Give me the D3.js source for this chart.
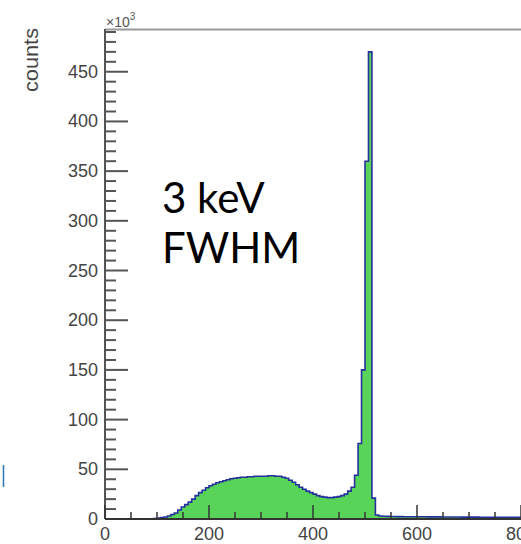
<!DOCTYPE html>
<html>
<head>
<meta charset="utf-8">
<script src="https://cdn.jsdelivr.net/npm/d3@7/dist/d3.min.js"></script>
<style>
  body { margin: 0; background: #fff; }
  svg { display: block; }
</style>
</head>
<body>
<div id="chart"></div>
<script>
// histogram: 120 bins from 0 to 800 keV, counts in units of 10^3
const binLow = 0;
const binHigh = 800;
const counts = [
  0, 0, 0, 0, 0, 0, 0, 0, 0, 0, 0, 0, 0,
  0.3, 0.5, 1, 1.5, 2, 3, 4.5, 6, 9, 12,
  14.5, 17, 20, 23.5, 26.5, 29, 31.5, 33.5, 35, 36.5,
  37.5, 38.5, 39.5, 40.5, 41, 41.5, 42, 42, 42.5, 42.5,
  43, 43, 43, 43, 43.5, 43.5, 43, 43, 42, 41,
  39, 37, 34.5, 32, 30, 28, 26.5, 25, 23.5, 22.5,
  22, 21.5, 21.5, 22, 22.5, 23.5, 25, 28, 32, 44,
  76, 150, 360, 470, 21, 4,
  3, 2.8, 2.6, 2.5, 2.5, 2.4, 2.4, 2.3, 2.3, 2.3,
  2.2, 2.2, 2.2, 2.2, 2.1, 2.1, 2.1, 2.1, 2, 2,
  2, 2, 2, 2, 1.9, 1.9, 1.9, 1.9, 1.9, 1.8,
  1.8, 1.8, 1.8, 1.8, 1.8, 1.7, 1.7, 1.7, 1.7, 1.7, 1.7
];
const xMajor = [0, 200, 400, 600, 800];
const xMinor = [50, 100, 150, 250, 300, 350, 450, 500, 550, 650, 700, 750];
const yMajor = [0, 50, 100, 150, 200, 250, 300, 350, 400, 450];
const yMinorStep = 10;
const yMax = 493;

const W = 521, H = 544;
const m = {left: 105, right: 521, top: 29, bottom: 519};
const font = "Liberation Sans, Arial, sans-serif";

const svg = d3.select("#chart").append("svg")
  .attr("width", W)
  .attr("height", H);

const x = d3.scaleLinear().domain([binLow, binHigh]).range([m.left, m.right]);
const y = d3.scaleLinear().domain([0, yMax]).range([m.bottom, m.top]);

// bins -> step points (lower edges + final upper edge)
const bw = (binHigh - binLow) / counts.length;
const pts = counts.map((c, i) => ({e: binLow + i * bw, c: c}));
pts.push({e: binHigh, c: counts[counts.length - 1]});

// slide artefact at far left
svg.append("line")
  .attr("x1", 3.5).attr("x2", 3.5)
  .attr("y1", 465).attr("y2", 487)
  .attr("stroke", "#2e75b6")
  .attr("stroke-width", 1.5);

// top frame line
svg.append("line")
  .attr("x1", m.left).attr("x2", m.right)
  .attr("y1", m.top + 0.5).attr("y2", m.top + 0.5)
  .attr("stroke", "#999")
  .attr("stroke-width", 2);

// filled histogram
const area = d3.area()
  .curve(d3.curveStepAfter)
  .x(d => x(d.e))
  .y0(y(0))
  .y1(d => y(d.c));

svg.append("path")
  .datum(pts)
  .attr("d", area)
  .attr("fill", "#58d558");

const line = d3.line()
  .curve(d3.curveStepAfter)
  .x(d => x(d.e))
  .y(d => y(d.c));

svg.append("path")
  .datum(pts.filter((d, i) => i >= 12))
  .attr("d", line)
  .attr("fill", "none")
  .attr("stroke", "#26309c")
  .attr("stroke-width", 1.6);

// y axis
const gy = svg.append("g").attr("stroke", "#555");
gy.append("line")
  .attr("x1", m.left).attr("x2", m.left)
  .attr("y1", m.top).attr("y2", m.bottom)
  .attr("stroke-width", 2);
const yMinor = d3.range(0, yMax, yMinorStep).filter(v => v % 50 !== 0);
gy.selectAll(".ymin").data(yMinor).join("line")
  .attr("x1", m.left).attr("x2", m.left + 11)
  .attr("y1", d => y(d)).attr("y2", d => y(d))
  .attr("stroke-width", 2);
gy.selectAll(".ymaj").data(yMajor).join("line")
  .attr("x1", m.left).attr("x2", m.left + 23)
  .attr("y1", d => y(d)).attr("y2", d => y(d))
  .attr("stroke-width", 2);

svg.selectAll(".ylab").data(yMajor).join("text")
  .attr("x", 98)
  .attr("y", d => y(d) + 6)
  .attr("text-anchor", "end")
  .attr("font-family", font)
  .attr("font-size", 18)
  .attr("fill", "#444")
  .text(d => d);

// x axis
const gx = svg.append("g").attr("stroke", "#333");
gx.append("line")
  .attr("x1", m.left).attr("x2", m.right)
  .attr("y1", m.bottom).attr("y2", m.bottom)
  .attr("stroke-width", 2);
gx.selectAll(".xmin").data(xMinor).join("line")
  .attr("x1", d => x(d)).attr("x2", d => x(d))
  .attr("y1", m.bottom).attr("y2", m.bottom - 7)
  .attr("stroke-width", 1.5);
gx.selectAll(".xmaj").data(xMajor).join("line")
  .attr("x1", d => x(d)).attr("x2", d => x(d))
  .attr("y1", m.bottom).attr("y2", m.bottom - 14)
  .attr("stroke-width", 1.5);

svg.selectAll(".xlab").data(xMajor).join("text")
  .attr("x", d => x(d))
  .attr("y", 540)
  .attr("text-anchor", "middle")
  .attr("font-family", font)
  .attr("font-size", 18)
  .attr("fill", "#444")
  .text(d => d);

// exponent label
const ex = svg.append("text")
  .attr("x", m.left + 1)
  .attr("y", 27)
  .attr("font-family", font)
  .attr("font-size", 14)
  .attr("fill", "#555");
ex.append("tspan").text("\u00d710");
ex.append("tspan").attr("dy", -7).attr("font-size", 10).text("3");

// y axis title
svg.append("text")
  .attr("transform", "translate(38,28) rotate(-90)")
  .attr("text-anchor", "end")
  .attr("font-family", font)
  .attr("font-size", 20)
  .attr("textLength", 64)
  .attr("lengthAdjust", "spacingAndGlyphs")
  .attr("fill", "#444")
  .text("counts");

// annotation
svg.append("text")
  .attr("x", 162).attr("y", 213)
  .attr("font-family", "Lato, 'Open Sans', sans-serif")
  .attr("font-size", 42)
  .attr("fill", "#000")
  .text("3 keV");
svg.append("text")
  .attr("x", 162).attr("y", 263)
  .attr("font-family", "Lato, 'Open Sans', sans-serif")
  .attr("font-size", 42)
  .attr("fill", "#000")
  .text("FWHM");
</script>
</body>
</html>
